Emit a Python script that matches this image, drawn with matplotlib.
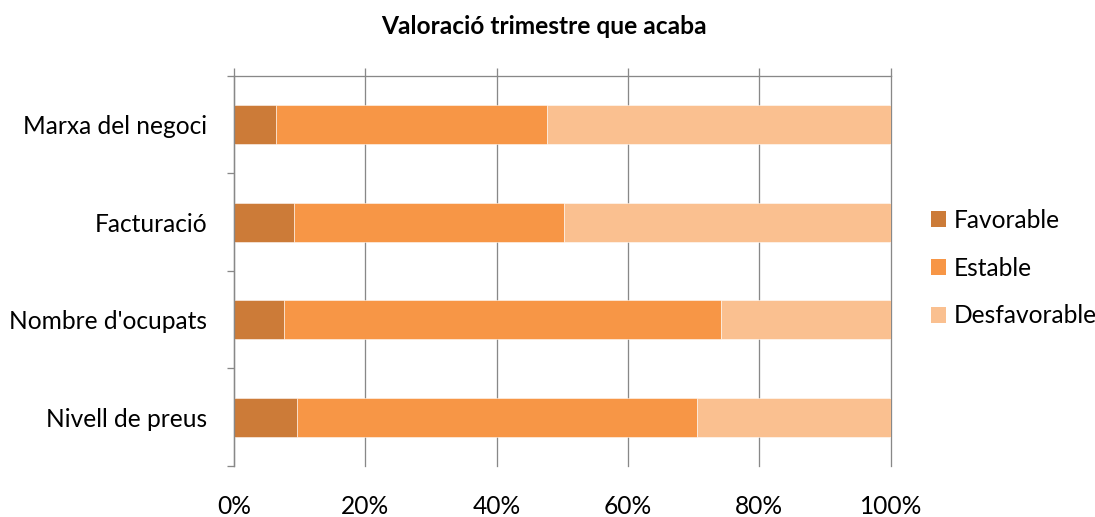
import matplotlib
matplotlib.use('Agg')
import matplotlib.pyplot as plt
from matplotlib.patches import Patch
import numpy as np

matplotlib.rcParams["font.family"] = ["Lato", "DejaVu Sans"]

# data (percentages, top to bottom)
categories = ["Marxa del negoci", "Facturació", "Nombre d'ocupats", "Nivell de preus"]
favorable = [6.4, 9.1, 7.6, 9.6]
estable = [41.3, 41.2, 66.6, 60.9]
desfavorable = [52.3, 49.7, 25.8, 29.5]
series_names = ["Favorable", "Estable", "Desfavorable"]
colors = ["#CC7B38", "#F79646", "#FAC090"]

grey = "#888888"
fs = 24.5

fig = plt.figure(figsize=(1095 / 72, 517 / 72), dpi=72)
ax = fig.add_axes([234 / 1095, 1 - 466 / 517, (890.7 - 234) / 1095, (466 - 75.7) / 517])

y = np.arange(len(categories))
left = np.zeros(len(categories))
for vals, name, col in zip([favorable, estable, desfavorable], series_names, colors):
    ax.barh(y, vals, left=left, height=0.4, color=col, edgecolor="white",
            linewidth=0.5, label=name)
    left += np.array(vals)

ax.set_xlim(0, 100)
ax.set_ylim(len(categories) - 0.5, -0.5)
ax.set_xticks(np.arange(0, 101, 20))
ax.set_xticklabels([f"{v}%" for v in range(0, 101, 20)])
ax.set_yticks(y)
ax.set_yticklabels(categories)
ax.set_yticks(np.arange(-0.5, len(categories)), minor=True)

ax.set_axisbelow(True)
ax.grid(axis="x", color=grey, linewidth=1.3)
for gl in ax.get_xgridlines():
    gl.set_clip_on(False)

for s in ["right", "bottom"]:
    ax.spines[s].set_visible(False)
for s in ["top", "left"]:
    ax.spines[s].set_color(grey)
    ax.spines[s].set_linewidth(1.3)

ax.tick_params(axis="x", which="major", top=True, bottom=False, labeltop=False,
               labelbottom=True, length=8, width=1.3, color=grey, direction="out",
               pad=21, labelsize=fs)
ax.tick_params(axis="y", which="major", length=0, pad=27, labelsize=fs)
ax.tick_params(axis="y", which="minor", length=7, width=1.3, color=grey, direction="out")

fig.text(543.5 / 1095, 1 - 26 / 517, "Valoració trimestre que acaba",
         ha="center", va="center", fontsize=fs, fontweight="bold")

handles = [Patch(facecolor=c, label=n) for c, n in zip(colors, series_names)]
fig.legend(handles=handles, loc="center left", bbox_to_anchor=(931 / 1095, 1 - 268 / 517),
           frameon=False, fontsize=fs, handlelength=0.62, handleheight=0.62,
           handletextpad=0.3, labelspacing=1.02, borderpad=0, borderaxespad=0)

plt.savefig("out.png", dpi=72)
